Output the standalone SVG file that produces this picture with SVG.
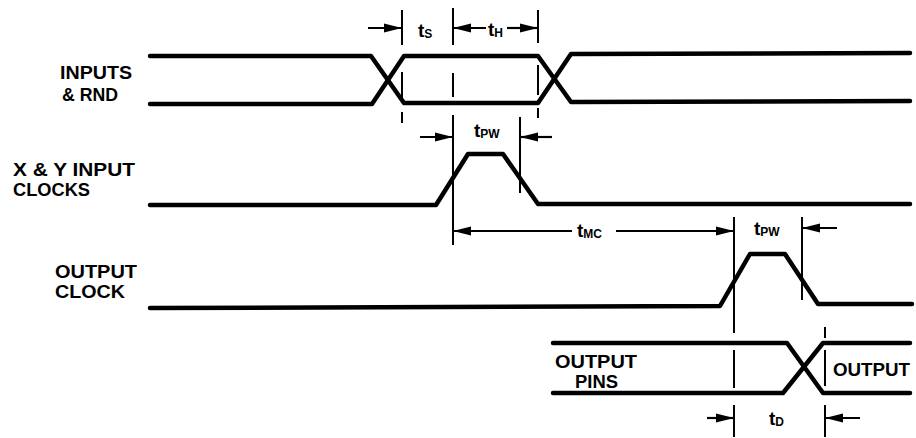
<svg xmlns="http://www.w3.org/2000/svg" width="916" height="438" viewBox="0 0 916 438">
<style>
.sig{fill:none;stroke:#000;stroke-width:4.5;stroke-linejoin:round;stroke-linecap:round}
.v{stroke:#000;stroke-width:2;fill:none}
.dim{stroke:#000;stroke-width:2.2;fill:none;marker-end:url(#ah)}
.lbl{font-family:"Liberation Sans",Arial,sans-serif;font-weight:bold;font-size:18px;fill:#000}
.t{font-family:"Liberation Sans",Arial,sans-serif;font-weight:bold;font-size:19px;fill:#000}
.sub{font-size:12px}
</style>
<defs>
<marker id="ah" markerUnits="userSpaceOnUse" markerWidth="20" markerHeight="12" refX="18" refY="6" orient="auto">
<path d="M0,1.5 L18,6 L0,10.5 Z" fill="#000"/>
</marker>
</defs>
<rect width="916" height="438" fill="#fff"/>
<g id="inputs-rnd">
<path class="sig" d="M150,56 L371,56 L404,103 L538,103 L571,54 L910,53"/>
<path class="sig" d="M150,104 L372,104 L404,56 L538,56 L571,102 L910,101"/>
<text class="lbl" x="60" y="79" textLength="72" lengthAdjust="spacingAndGlyphs">INPUTS</text>
<text class="lbl" x="62" y="101" textLength="56" lengthAdjust="spacingAndGlyphs">&amp; RND</text>
</g>
<g id="xy-input-clocks">
<path class="sig" d="M150,205 L436,205 L468,154 L503,154 L538,204 L910,204"/>
<text class="lbl" x="13" y="176" textLength="122" lengthAdjust="spacingAndGlyphs">X &amp; Y INPUT</text>
<text class="lbl" x="13" y="196" textLength="77" lengthAdjust="spacingAndGlyphs">CLOCKS</text>
</g>
<g id="output-clock">
<path class="sig" d="M150,308 L720,306 L750,254 L785,254 L818,304 L912,304"/>
<text class="lbl" x="55" y="278" textLength="82" lengthAdjust="spacingAndGlyphs">OUTPUT</text>
<text class="lbl" x="55" y="298" textLength="70" lengthAdjust="spacingAndGlyphs">CLOCK</text>
</g>
<g id="output-pins">
<path class="sig" d="M553,343 L787,343 L823,393 L910,393"/>
<path class="sig" d="M553,393 L783,393 L823,343 L910,343"/>
<text class="lbl" x="555" y="368" textLength="82" lengthAdjust="spacingAndGlyphs">OUTPUT</text>
<text class="lbl" x="575" y="388" textLength="43" lengthAdjust="spacingAndGlyphs">PINS</text>
<text class="lbl" x="833" y="376" textLength="77" lengthAdjust="spacingAndGlyphs">OUTPUT</text>
</g>
<g id="connectors">
<path class="v" d="M402,10 V45 M402,72 V98 M402,112 V123"/>
<path class="v" d="M453,8 V45 M453,73 V97 M453,115 V245"/>
<path class="v" d="M538,10 V43 M538,65 V95 M538,108 V118"/>
<path class="v" d="M520,117 V193"/>
<path class="v" d="M734,217 V333 M734,350 V388 M734,405 V437"/>
<path class="v" d="M802,217 V300"/>
<path class="v" d="M825,327 V338 M825,350 V386 M825,405 V437"/>
<line class="dim" x1="368" y1="28" x2="402" y2="28"/>
<line class="dim" x1="486" y1="28" x2="453" y2="28"/>
<line class="dim" x1="507" y1="28" x2="538" y2="28"/>
<line class="dim" x1="420" y1="137" x2="453" y2="137"/>
<line class="dim" x1="552" y1="137" x2="520" y2="137"/>
<line class="dim" x1="572" y1="231" x2="453" y2="231"/>
<line class="dim" x1="616" y1="231" x2="734" y2="231"/>
<line class="dim" x1="837" y1="228" x2="802" y2="228"/>
<line class="dim" x1="707" y1="418" x2="734" y2="418"/>
<line class="dim" x1="860" y1="418" x2="825" y2="418"/>
</g>
<g id="timing-labels">
<text class="t" x="418" y="37">t<tspan class="sub" dy="1">S</tspan></text>
<text class="t" x="488" y="36">t<tspan class="sub" dy="1">H</tspan></text>
<text class="t" x="474" y="137">t<tspan class="sub" dy="1">PW</tspan></text>
<text class="t" x="577" y="237">t<tspan class="sub" dy="1">MC</tspan></text>
<text class="t" x="754" y="235">t<tspan class="sub" dy="1">PW</tspan></text>
<text class="t" x="769" y="425">t<tspan class="sub" dy="1">D</tspan></text>
</g>
</svg>
